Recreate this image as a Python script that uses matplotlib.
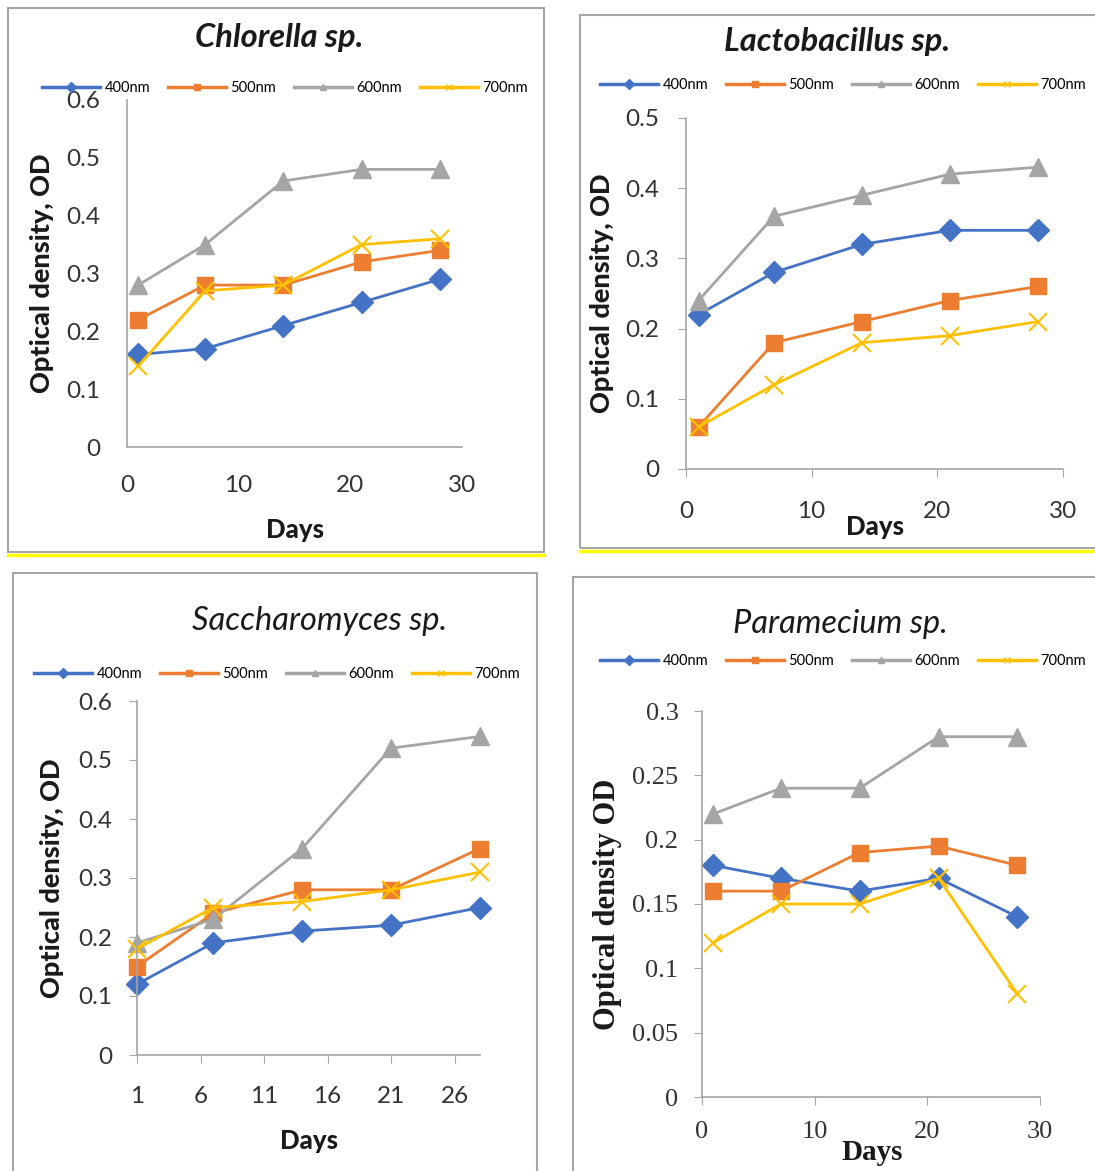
import matplotlib
matplotlib.use("Agg")
import matplotlib.pyplot as plt
from matplotlib.lines import Line2D
from matplotlib.patches import Rectangle

W, H = 1095, 1171

# sampling days and wavelengths
days = [1, 7, 14, 21, 28]
wavelengths = ["400nm", "500nm", "600nm", "700nm"]
colors = ["#4472C4", "#ED7D31", "#A5A5A5", "#FFC000"]
markers = ["D", "s", "^", "x"]
marker_sizes = [11, 11, 13, 13]

# optical density per organism, one list per wavelength
chlorella = [
    [0.16, 0.17, 0.21, 0.25, 0.29],
    [0.22, 0.28, 0.28, 0.32, 0.34],
    [0.28, 0.35, 0.46, 0.48, 0.48],
    [0.14, 0.27, 0.28, 0.35, 0.36],
]
lactobacillus = [
    [0.22, 0.28, 0.32, 0.34, 0.34],
    [0.06, 0.18, 0.21, 0.24, 0.26],
    [0.24, 0.36, 0.39, 0.42, 0.43],
    [0.06, 0.12, 0.18, 0.19, 0.21],
]
saccharomyces = [
    [0.12, 0.19, 0.21, 0.22, 0.25],
    [0.15, 0.24, 0.28, 0.28, 0.35],
    [0.19, 0.23, 0.35, 0.52, 0.54],
    [0.18, 0.25, 0.26, 0.28, 0.31],
]
paramecium = [
    [0.18, 0.17, 0.16, 0.17, 0.14],
    [0.16, 0.16, 0.19, 0.195, 0.18],
    [0.22, 0.24, 0.24, 0.28, 0.28],
    [0.12, 0.15, 0.15, 0.17, 0.08],
]

yticks_06 = [0, 0.1, 0.2, 0.3, 0.4, 0.5, 0.6]
yticks_05 = [0, 0.1, 0.2, 0.3, 0.4, 0.5]
yticks_03 = [0, 0.05, 0.1, 0.15, 0.2, 0.25, 0.3]
xticks_30 = [0, 10, 20, 30]
xticks_sacc = [1, 6, 11, 16, 21, 26]

SANS = "Lato"
SERIF = "Liberation Serif"

panels = [
    dict(title="Chlorella sp.", data=chlorella, box=(8, 8, 544, 552), yellow=555,
         ax=(127, 100, 462, 447), xlim=(0, 30), ylim=(0, 0.6), xt=xticks_30, yt=yticks_06,
         ylabel="Optical density, OD", title_xy=(279, 37), title_bold=True,
         leg_xy=(285, 88), ylab_x=42, xlab_xy=(295, 530), ticklen=0,
         xpad=20, ypad=19, font=SANS),
    dict(title="Lactobacillus sp.", data=lactobacillus, box=(580, 15, 1100, 548), yellow=551,
         ax=(686, 118, 1063, 469), xlim=(0, 30), ylim=(0, 0.5), xt=xticks_30, yt=yticks_05,
         ylabel="Optical density, OD", title_xy=(837, 42), title_bold=True,
         leg_xy=(843, 85), ylab_x=602, xlab_xy=(875, 527), ticklen=6,
         xpad=17, ypad=13, font=SANS),
    dict(title="Saccharomyces sp.", data=saccharomyces, box=(13, 573, 537, 1175), yellow=None,
         ax=(137, 701, 480, 1055), xlim=(1, 28), ylim=(0, 0.6), xt=xticks_sacc, yt=yticks_06,
         ylabel="Optical density, OD", title_xy=(320, 621), title_bold=False,
         leg_xy=(277, 674), ylab_x=52, xlab_xy=(309, 1141), ticklen=6,
         xpad=16, ypad=12, font=SANS),
    dict(title="Paramecium sp.", data=paramecium, box=(573, 577, 1100, 1175), yellow=None,
         ax=(702, 711, 1040, 1097), xlim=(0, 30), ylim=(0, 0.3), xt=xticks_30, yt=yticks_03,
         ylabel="Optical density OD", title_xy=(840, 624), title_bold=False,
         leg_xy=(843, 661), ylab_x=607, xlab_xy=(872, 1153), ticklen=6,
         xpad=11, ypad=11, font=SERIF),
]


def fig_rect(x0, y0, x1, y1):
    return [x0 / W, 1 - y1 / H, (x1 - x0) / W, (y1 - y0) / H]


def fmt(v):
    return "0" if v == 0 else ("%g" % v)


fig = plt.figure(figsize=(W / 100, H / 100), dpi=100)
fig.patch.set_facecolor("white")

for p in panels:
    bx0, by0, bx1, by1 = p["box"]
    fig.add_artist(Rectangle((bx0 / W, 1 - by1 / H), (bx1 - bx0) / W, (by1 - by0) / H,
                             transform=fig.transFigure, fill=False, ec="#A6A6A6", lw=1.5))
    if p["yellow"]:
        yy = 1 - p["yellow"] / H
        fig.add_artist(Line2D([bx0 / W, bx1 / W], [yy, yy], transform=fig.transFigure,
                              color="#FFFF00", lw=2.5))

    ax = fig.add_axes(fig_rect(*p["ax"]))
    for vals, c, m, ms in zip(p["data"], colors, markers, marker_sizes):
        ax.plot(days, vals, color=c, marker=m, ms=ms, lw=2, mew=1.5 if m == "x" else 1,
                clip_on=False)

    ax.set_xlim(*p["xlim"])
    ax.set_ylim(*p["ylim"])
    ax.set_xticks(p["xt"])
    ax.set_xticklabels([fmt(v) for v in p["xt"]])
    ax.set_yticks(p["yt"])
    ax.set_yticklabels([fmt(v) for v in p["yt"]])
    for s in ("top", "right"):
        ax.spines[s].set_visible(False)
    for s in ("left", "bottom"):
        ax.spines[s].set_color("#A6A6A6")
        ax.spines[s].set_linewidth(1.2)
    tick_size = 17.5 if p["font"] == SANS else 19
    ax.tick_params(axis="x", length=p["ticklen"], color="#A6A6A6", pad=p["xpad"],
                   labelsize=tick_size, labelcolor="#333333")
    ax.tick_params(axis="y", length=p["ticklen"], color="#A6A6A6", pad=p["ypad"],
                   labelsize=tick_size, labelcolor="#333333")
    for lab in ax.get_xticklabels() + ax.get_yticklabels():
        lab.set_family(p["font"])

    # title, axis labels
    tx, ty = p["title_xy"]
    fig.text(tx / W, 1 - ty / H, p["title"], ha="center", va="center", family=SANS,
             style="italic", weight="bold" if p["title_bold"] else "normal",
             fontsize=23.5, color="#1a1a1a")
    fig.text(p["ylab_x"] / W, 1 - ((p["ax"][1] + p["ax"][3]) / 2) / H, p["ylabel"],
             rotation=90, ha="center", va="center", family=p["font"], weight="black" if p["font"] == SANS else "bold",
             fontsize=19.5 if p["font"] == SANS else 22, color="#1a1a1a")
    lx, ly = p["xlab_xy"]
    fig.text(lx / W, 1 - ly / H, "Days", ha="center", va="center", family=p["font"],
             weight="black" if p["font"] == SANS else "bold",
             fontsize=18.5 if p["font"] == SANS else 21, color="#1a1a1a")

    handles = [Line2D([], [], color=c, marker=m, ms=5, lw=2.5) for c, m in zip(colors, markers)]
    gx, gy = p["leg_xy"]
    fig.legend(handles, wavelengths, loc="center", bbox_to_anchor=(gx / W, 1 - gy / H),
               ncol=4, frameon=False, prop={"family": SANS, "size": 10.5},
               handlelength=4.0, handletextpad=0.3, columnspacing=1.2, borderpad=0)

fig.savefig("out.png", dpi=100, facecolor="white")
